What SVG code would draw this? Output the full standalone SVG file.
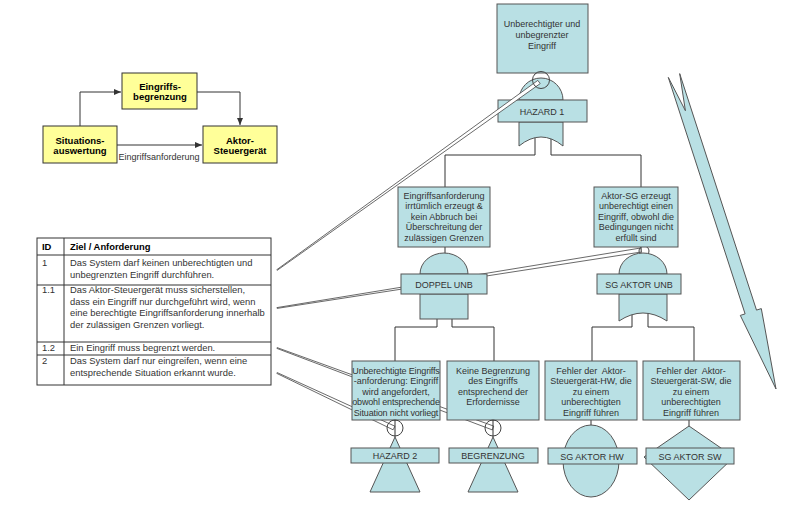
<svg xmlns="http://www.w3.org/2000/svg" width="800" height="508" viewBox="0 0 800 508">
<style>
.n{fill:#b9e0e4;stroke:#555;stroke-width:1}
.y{fill:#ffff99;stroke:#333;stroke-width:1}
.t{font-family:"Liberation Sans",Arial,sans-serif;font-size:9px;fill:#333;text-anchor:middle}
.b{font-family:"Liberation Sans",Arial,sans-serif;font-size:9.5px;font-weight:bold;fill:#000;text-anchor:middle}
.tl{font-family:"Liberation Sans",Arial,sans-serif;font-size:9.4px;fill:#333}
.th{font-family:"Liberation Sans",Arial,sans-serif;font-size:9.4px;font-weight:bold;fill:#000}
.e{fill:none;stroke:#333;stroke-width:1}
.lk{fill:#fff;stroke:#444;stroke-width:0.8}
.c{fill:none;stroke:#444;stroke-width:1}
</style>
<defs>
<marker id="ah" markerWidth="8" markerHeight="8" refX="7" refY="4" orient="auto" markerUnits="userSpaceOnUse"><path d="M0,1 L7,4 L0,7 Z" fill="#333"/></marker>
</defs>
<rect x="0" y="0" width="800" height="508" fill="#fff"/>

<!-- block diagram -->
<g id="block-connectors">
<path class="e" d="M80,126 V92 H121" marker-end="url(#ah)"/>
<path class="e" d="M197,92 H240 V125" marker-end="url(#ah)"/>
<path class="e" d="M117,145 H202" marker-end="url(#ah)"/>
<text class="t" x="159" y="160">Eingriffsanforderung</text>
</g>
<g id="eingriffsbegrenzung"><rect class="y" x="122" y="73" width="75" height="36"/><text class="b" x="160" y="89.5">Eingriffs-</text><text class="b" x="160" y="100">begrenzung</text></g>
<g id="situationsauswertung"><rect class="y" x="43" y="126" width="74" height="37"/><text class="b" x="80" y="143.5">Situations-</text><text class="b" x="80" y="154">auswertung</text></g>
<g id="aktor-steuergeraet"><rect class="y" x="203" y="126" width="74" height="37"/><text class="b" x="240" y="143.5">Aktor-</text><text class="b" x="240" y="154">Steuergerät</text></g>

<!-- table -->
<g id="table">
<rect x="37" y="238" width="234" height="147" fill="#fff" stroke="#333"/>
<path class="e" d="M37,255 H271 M37,285 H271 M37,342 H271 M37,355 H271 M64,238 V385"/>
<text class="th" x="42" y="250">ID</text><text class="th" x="70" y="250">Ziel / Anforderung</text>
<text class="tl" x="42" y="266">1</text>
<text class="tl" x="70" y="266">Das System darf keinen unberechtigten und</text>
<text class="tl" x="70" y="277.5">unbegrenzten Eingriff durchführen.</text>
<text class="tl" x="42" y="293">1.1</text>
<text class="tl" x="70" y="293">Das Aktor-Steuergerät muss sicherstellen,</text>
<text class="tl" x="70" y="304.5">dass ein Eingriff nur durchgeführt wird, wenn</text>
<text class="tl" x="70" y="316">eine berechtigte Eingriffsanforderung innerhalb</text>
<text class="tl" x="70" y="327.5">der zulässigen Grenzen vorliegt.</text>
<text class="tl" x="42" y="351">1.2</text>
<text class="tl" x="70" y="351">Ein Eingriff muss begrenzt werden.</text>
<text class="tl" x="42" y="364">2</text>
<text class="tl" x="70" y="364">Das System darf nur eingreifen, wenn eine</text>
<text class="tl" x="70" y="375.5">entsprechende Situation erkannt wurde.</text>
</g>

<!-- connectors (behind nodes) -->
<g id="connectors">
<path class="e" d="M535,135 V155 H445 V187 M551,135 V155 H641 V187"/>
<path class="e" d="M445,247 V256 M641,247 V256"/>
<path class="e" d="M437,315 V327 H395 V361 M452,315 V327 H494 V361"/>
<path class="e" d="M632,310 V327 H592 V361 M648,310 V327 H694 V361"/>
<path class="e" d="M591,420 V426 M689,420 V427"/>
<polygon class="lk" points="276.9,307.6 640.7,248.0 641.3,252.0 277.1,308.4"/>
<polygon class="lk" points="277.1,347.6 493.7,426.1 492.3,429.9 276.9,348.4"/>
<polygon class="lk" points="277.2,372.6 394.9,426.2 393.1,429.8 276.8,373.4"/>
<circle class="c" cx="644" cy="251" r="5"/>
</g>

<!-- fault tree -->
<g id="top-event"><rect class="n" x="497" y="4" width="91" height="69"/><text class="t" x="542" y="26.5">Unberechtigter und</text><text class="t" x="542" y="37.5">unbegrenzter</text><text class="t" x="542" y="48.5">Eingriff</text></g>
<g id="hazard1">
<path class="n" d="M519,100 A22,22 0 0 1 563,100 Z"/>
<path class="n" d="M519,122 V146 Q541,128 563,146 V122 Z"/>
<rect class="n" x="498" y="100" width="89" height="22"/>
<text class="t" x="542" y="115">HAZARD 1</text>
</g>
<g id="node-eingriffsanforderung"><rect class="n" x="398" y="187" width="92" height="60"/>
<text class="t" x="444" y="198.5">Eingriffsanforderung</text><text class="t" x="444" y="209">irrtümlich erzeugt &amp;</text><text class="t" x="444" y="219.5">kein Abbruch bei</text><text class="t" x="444" y="230">Überschreitung der</text><text class="t" x="444" y="240.5">zulässigen Grenzen</text></g>
<g id="node-aktor-sg"><rect class="n" x="594" y="187" width="84" height="60"/>
<text class="t" x="636" y="198.5">Aktor-SG erzeugt</text><text class="t" x="636" y="209">unberechtigt einen</text><text class="t" x="636" y="219.5">Eingriff, obwohl die</text><text class="t" x="636" y="230">Bedingungen nicht</text><text class="t" x="636" y="240.5">erfüllt sind</text></g>
<g id="doppel-unb">
<path class="n" d="M420,274 A24,21 0 0 1 468,274 Z"/>
<rect class="n" x="420" y="294" width="48" height="25"/>
<rect class="n" x="401" y="274" width="86" height="20"/>
<text class="t" x="444" y="287.5">DOPPEL UNB</text>
</g>
<g id="sg-aktor-unb">
<path class="n" d="M619,274 A24,21 0 0 1 667,274 Z"/>
<path class="n" d="M619,294 V321 Q643,305 667,321 V294 Z"/>
<rect class="n" x="597" y="274" width="84" height="20"/>
<text class="t" x="639" y="287.5">SG AKTOR UNB</text>
</g>
<g id="node-unberechtigte"><rect class="n" x="352" y="361" width="88" height="59"/>
<text class="t" x="396" y="373.5" letter-spacing="-0.15">Unberechtigte Eingriffs</text><text class="t" x="396" y="384">-anforderung: Eingriff</text><text class="t" x="396" y="394.5">wird angefordert,</text><text class="t" x="396" y="405" letter-spacing="-0.15">obwohl entsprechende</text><text class="t" x="396" y="415.5" letter-spacing="-0.15">Situation nicht vorliegt</text></g>
<g id="node-keine-begrenzung"><rect class="n" x="447" y="361" width="92" height="59"/>
<text class="t" x="493" y="373.5">Keine Begrenzung</text><text class="t" x="493" y="384">des Eingriffs</text><text class="t" x="493" y="394.5">entsprechend der</text><text class="t" x="493" y="405">Erfordernisse</text></g>
<g id="node-fehler-hw"><rect class="n" x="545" y="361" width="92" height="59"/>
<text class="t" x="591" y="373.5" xml:space="preserve">Fehler der  Aktor-</text><text class="t" x="591" y="384">Steuergerät-HW, die</text><text class="t" x="591" y="394.5">zu einem</text><text class="t" x="591" y="405">unberechtigten</text><text class="t" x="591" y="415.5">Eingriff führen</text></g>
<g id="node-fehler-sw"><rect class="n" x="643" y="361" width="97" height="59"/>
<text class="t" x="691" y="373.5" xml:space="preserve">Fehler der  Aktor-</text><text class="t" x="691" y="384">Steuergerät-SW, die</text><text class="t" x="691" y="394.5">zu einem</text><text class="t" x="691" y="405">unberechtigten</text><text class="t" x="691" y="415.5">Eingriff führen</text></g>
<g id="hazard2">
<path class="n" d="M395,437 L420,492 L370,492 Z"/>
<rect class="n" x="351" y="448" width="88" height="15"/>
<text class="t" x="395" y="459">HAZARD 2</text>
<circle class="c" cx="395" cy="428" r="8"/>
<path class="e" d="M395,420 V437"/>
</g>
<g id="begrenzung">
<path class="n" d="M493,437 L518,492 L468,492 Z"/>
<rect class="n" x="449" y="448" width="89" height="15"/>
<text class="t" x="493" y="459">BEGRENZUNG</text>
<circle class="c" cx="493" cy="428" r="8"/>
<path class="e" d="M493,420 V437"/>
</g>
<g id="sg-aktor-hw">
<ellipse class="n" cx="591" cy="461" rx="28" ry="36"/>
<rect class="n" x="548" y="448" width="89" height="16"/>
<text class="t" x="592" y="459.5">SG AKTOR HW</text>
</g>
<g id="sg-aktor-sw">
<polygon class="n" points="689,426 734,457 689,500 644,457"/>
<rect class="n" x="646" y="448" width="88" height="16"/>
<text class="t" x="690" y="459.5">SG AKTOR SW</text>
</g>

<!-- front connector -->
<g id="connectors-front">
<polygon class="lk" points="276.8,269.7 537.8,80.4 540.2,83.6 277.2,270.3"/>
<circle class="c" cx="541" cy="80" r="8.5"/>
</g>

<g id="big-arrow">
<polygon class="n" points="668.3,77.4 745.1,313.9 740.3,315.4 776,389 761.3,308.6 756.5,310.1 679.7,73.6 685.4,110.7"/>
</g>
</svg>
